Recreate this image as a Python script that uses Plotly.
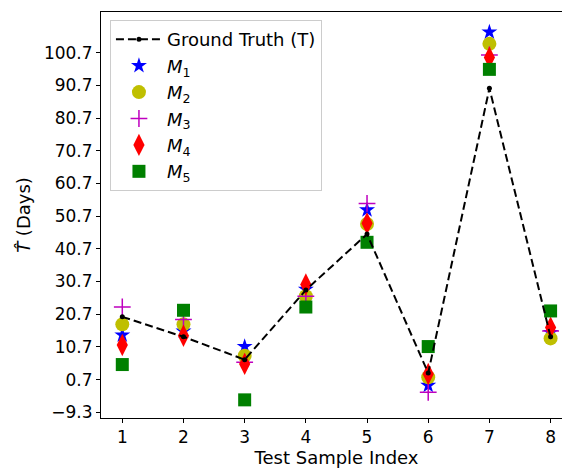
import plotly.graph_objects as go

idx = [1, 2, 3, 4, 5, 6, 7, 8]
ground_truth = [19.9, 13.8, 6.8, 28.1, 45.2, 2.7, 89.8, 13.8]
m1 = [14.3, 15.5, 10.8, 28.3, 52.6, -1.1, 107.0, 15.1]
m2 = [17.6, 17.6, 8.0, 26.2, 48.3, 1.4, 103.4, 13.3]
m3 = [22.9, 19.1, 6.0, 26.2, 54.6, -3.2, 100.0, 15.6]
m4 = [11.3, 14.1, 5.5, 29.8, 48.5, 2.4, 99.2, 16.6]
m5 = [5.3, 21.9, -5.5, 22.9, 42.7, 10.8, 95.6, 21.7]
ytick_vals = [-9.3, 0.7, 10.7, 20.7, 30.7, 40.7, 50.7, 60.7, 70.7, 80.7, 90.7, 100.7]
ytick_text = ["\u22129.3", "0.7", "10.7", "20.7", "30.7", "40.7", "50.7", "60.7", "70.7", "80.7", "90.7", "100.7"]

FONT = "DejaVu Sans"
fig = go.Figure()

series = [
    ("<i>M</i><sub>1</sub>", m1, "star", "#0000ff", 12, None),
    ("<i>M</i><sub>2</sub>", m2, "circle", "#bfbf00", 14, None),
    ("<i>M</i><sub>3</sub>", m3, "cross-thin", "#bf00bf", 12, "#bf00bf"),
    ("<i>M</i><sub>4</sub>", m4, "diamond-tall", "#ff0000", 16, None),
    ("<i>M</i><sub>5</sub>", m5, "square", "#008000", 13, None),
]
for i, (name, vals, sym, col, size, lc) in enumerate(series):
    marker = dict(symbol=sym, color=col, size=size, line=dict(width=0))
    if lc:
        marker["line"] = dict(width=1.5, color=lc)
    fig.add_trace(go.Scatter(x=idx, y=vals, mode="markers", name=name,
                             marker=marker, legendrank=i + 2))

fig.add_trace(go.Scatter(x=idx, y=ground_truth, mode="lines+markers", name="Ground Truth (T)",
                         line=dict(color="black", width=2, dash="8px,4px"),
                         marker=dict(color="black", size=5), legendrank=1))

fig.update_layout(
    width=572, height=469,
    margin=dict(l=101, r=0, t=12, b=51),
    paper_bgcolor="white", plot_bgcolor="white",
    font=dict(family=FONT, size=17, color="black"),
    showlegend=True,
    legend=dict(x=0.019, y=0.98, xanchor="left", yanchor="top",
                bgcolor="rgba(255,255,255,0.8)", bordercolor="#cccccc", borderwidth=1,
                font=dict(family=FONT, size=18), tracegroupgap=0, itemwidth=46),
    xaxis=dict(range=[0.652, 8.35], tickvals=idx, ticks="outside", ticklen=4,
               tickcolor="black", showline=True, linecolor="black", linewidth=1.1,
               mirror=True, showgrid=False, zeroline=False,
               title=dict(text="Test Sample Index", standoff=4, font=dict(size=18)),
               tickfont=dict(size=17), automargin=False),
    yaxis=dict(range=[-11.05, 113.15], tickvals=ytick_vals, ticktext=ytick_text,
               ticks="outside", ticklen=4, tickcolor="black", showline=True,
               linecolor="black", linewidth=1.1, showgrid=False, zeroline=False,
               title=dict(text="<i>T\u0302</i> (Days)", standoff=8, font=dict(size=18)),
               tickfont=dict(size=17), automargin=False),
)

fig.write_html("out.html", config={"displayModeBar": False},
               post_script="document.body.style.margin='0';document.body.style.overflow='hidden';"
                           "document.documentElement.style.overflow='hidden';")
